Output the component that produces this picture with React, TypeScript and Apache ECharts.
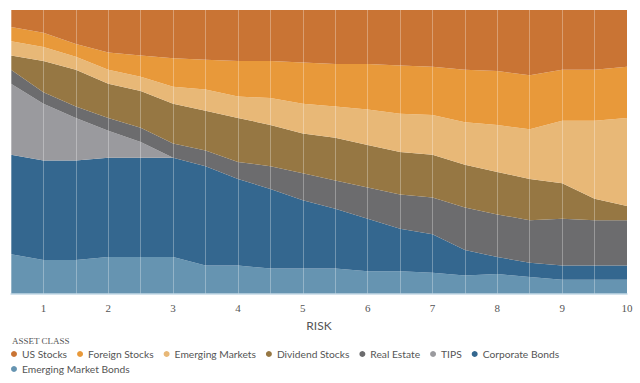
import React, { useEffect, useRef } from "react";
import * as echarts from "echarts";

const riskLevels = ["0.5","1","1.5","2","2.5","3","3.5","4","4.5","5","5.5","6","6.5","7","7.5","8","8.5","9","9.5","10"];

const usStocks      = [6, 8, 12, 15, 16, 17, 17.5, 18, 18, 18.5, 19, 19, 19.5, 20, 21, 21.5, 23, 21, 21, 20];
const foreignStocks = [5, 5, 4.5, 6, 7.5, 10, 10.5, 12.5, 13, 14.5, 15, 16, 17, 17, 18.5, 19, 19, 18, 18, 18];
const emergingMkts  = [5, 5, 4.5, 5, 5, 6, 7.5, 7.5, 9.5, 10.5, 11, 12.5, 13.5, 14, 15, 16.5, 17.5, 22, 27.5, 31];
const dividendStk   = [5, 11, 13, 12, 13, 14, 14, 15.5, 14.5, 14, 15, 15, 15, 15, 15, 15, 14.5, 12.5, 7.5, 5];
const realEstate    = [5, 4, 4, 4.5, 5, 5, 5.5, 6, 8, 9.5, 10, 11, 12, 13, 15, 15, 15, 16.5, 16, 16];
const tips          = [25, 20, 15, 9.5, 5.5, 0, 0, 0, 0, 0, 0, 0, 0, 0, 0, 0, 0, 0, 0, 0];
const corpBonds     = [35, 35, 35, 35, 35, 35, 35, 30.5, 28, 24, 21, 18.5, 15, 13.5, 9, 6, 5, 5, 5, 5];
const emBonds       = [14, 12, 12, 13, 13, 13, 10, 10, 9, 9, 9, 8, 8, 7.5, 6.5, 7, 6, 5, 5, 5];

const seriesDefs = [
  { name: "Emerging Market Bonds", data: emBonds, color: "#6694B1" },
  { name: "Corporate Bonds", data: corpBonds, color: "#34678F" },
  { name: "TIPS", data: tips, color: "#9A9A9E" },
  { name: "Real Estate", data: realEstate, color: "#6C6C6E" },
  { name: "Dividend Stocks", data: dividendStk, color: "#967743" },
  { name: "Emerging Markets", data: emergingMkts, color: "#E8B877" },
  { name: "Foreign Stocks", data: foreignStocks, color: "#E8993A" },
  { name: "US Stocks", data: usStocks, color: "#C97434" },
];

const legendRow1 = ["US Stocks", "Foreign Stocks", "Emerging Markets", "Dividend Stocks", "Real Estate", "TIPS", "Corporate Bonds"];
const legendRow2 = ["Emerging Market Bonds"];

export default function App() {
  const ref = useRef<HTMLDivElement>(null);
  useEffect(() => {
    document.body.style.margin = "0";
    if (!ref.current) return;
    const chart = echarts.init(ref.current, null, { renderer: "svg" });
    const legendCommon = {
      left: 6,
      orient: "horizontal" as const,
      icon: "circle",
      itemWidth: 6,
      itemHeight: 6,
      itemGap: 10,
      textStyle: { fontFamily: "Lato", fontSize: 10.25, color: "#555" },
      selectedMode: false,
    };
    chart.setOption({
      animation: false,
      color: seriesDefs.map((s) => s.color),
      title: {
        text: "ASSET CLASS",
        left: 7,
        top: 331,
        textStyle: { fontFamily: "Liberation Serif", fontSize: 9, fontWeight: "normal", color: "#555" },
      },
      legend: [
        { ...legendCommon, top: 344, data: legendRow1 },
        { ...legendCommon, top: 359, data: legendRow2 },
      ],
      grid: { left: 11, right: 13, top: 10, bottom: 89, containLabel: false },
      xAxis: {
        type: "category",
        data: riskLevels,
        boundaryGap: false,
        name: "RISK",
        nameLocation: "middle",
        nameGap: 25,
        nameTextStyle: { fontFamily: "Lato", fontSize: 12, color: "#555" },
        axisLine: { show: true, lineStyle: { color: "#c4d9e6", width: 1.5 } },
        axisTick: { show: false },
        axisLabel: {
          interval: (idx: number) => idx % 2 === 1,
          fontFamily: "Liberation Serif",
          fontSize: 11,
          color: "#555",
          margin: 8,
        },
        splitLine: { show: true, interval: 0, lineStyle: { color: "rgba(255,255,255,0.3)", width: 1 } },
        z: 10,
      },
      yAxis: {
        type: "value",
        min: 0,
        max: 100,
        show: false,
        splitLine: { show: false },
      },
      series: seriesDefs.map((s) => ({
        name: s.name,
        type: "line",
        stack: "total",
        data: s.data,
        symbol: "none",
        lineStyle: { width: 0 },
        areaStyle: { color: s.color, opacity: 1 },
        itemStyle: { color: s.color },
      })),
    });
    return () => chart.dispose();
  }, []);
  return <div ref={ref} style={{ width: 640, height: 383 }} />;
}
